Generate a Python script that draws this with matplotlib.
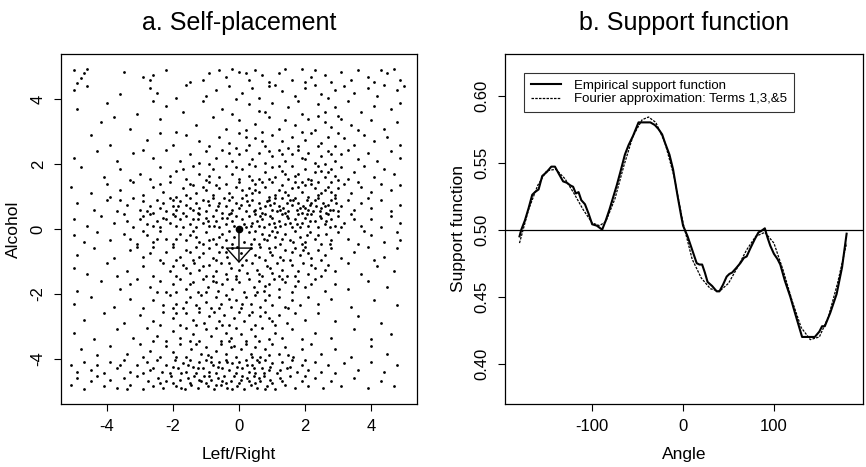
import numpy as np
import matplotlib
matplotlib.use("Agg")
import matplotlib.pyplot as plt

plt.rcParams["font.family"] = ["Liberation Sans", "DejaVu Sans"]
plt.rcParams["axes.unicode_minus"] = False

# Panel a: self-placements (left/right, alcohol)
placements = """
-5.0 4.9 -4.7 4.8 -4.6 4.95 -4.9 4.5 -4.8 4.65 -2.9 4.7 -2.7 4.6 -2.6 4.75 -1.5 4.55 -0.9 4.8
-0.6 4.9 -0.4 4.7 -0.2 4.95 0.0 4.85 0.2 4.8 0.3 4.6 0.5 4.9 0.7 4.75 0.9 4.55 1.2 4.8
1.6 4.6 1.9 4.95 2.2 4.7 2.3 4.9 2.6 4.75 2.8 4.55 3.1 4.85 3.4 4.6 3.6 4.9 3.9 4.7
4.1 4.55 4.3 4.9 4.5 4.8 4.7 4.95 4.9 4.6 -3.5 4.85 -2.2 4.9 1.4 4.95 -1.1 4.6 2.0 4.55
-5.0 4.3 -4.6 4.4 -3.6 4.15 -2.7 4.35 -2.5 4.2 -1.6 4.45 -1.0 4.1 -0.7 4.3 -0.3 4.4 0.1 4.2
0.4 4.35 0.6 4.05 0.9 4.4 1.3 4.25 1.7 4.1 2.0 4.35 2.3 4.45 2.5 4.15 2.9 4.3 3.2 4.4
3.5 4.2 3.9 4.35 4.2 4.1 4.4 4.45 4.8 4.3 5.0 4.4 -1.9 4.05 1.1 4.45 2.7 4.05 -0.1 4.0
-4.9 3.7 -4.0 3.9 -3.1 3.55 -2.2 3.8 -1.7 3.6 -1.1 3.95 -0.5 3.7 -0.2 3.55 0.3 3.85 0.8 3.6
1.0 3.9 1.5 3.75 1.9 3.55 2.4 3.85 2.6 3.6 2.9 3.75 3.3 3.95 3.7 3.6 4.1 3.8 4.6 3.7
4.9 3.9 -2.6 3.95 0.6 3.65 1.8 3.95 3.0 3.5
-4.2 3.3 -3.3 3.1 -2.4 3.4 -1.3 3.2 -0.8 3.45 -0.4 3.1 0.0 3.35 0.2 3.05 0.5 3.25 0.9 3.45
1.2 3.1 1.4 3.35 1.7 3.2 2.1 3.4 2.3 3.05 2.6 3.3 2.8 3.15 3.1 3.4 3.4 3.2 3.6 3.05
4.0 3.35 4.4 3.1 4.8 3.3 -1.9 3.0 1.9 3.0 -3.8 3.45 2.4 3.5 0.7 3.0
-4.5 2.9 -3.9 2.6 -2.8 2.75 -2.0 2.6 -1.6 2.9 -1.2 2.7 -0.9 2.55 -0.6 2.85 -0.3 2.65 0.0 2.95
0.3 2.6 0.5 2.8 0.8 2.55 1.0 2.9 1.3 2.7 1.6 2.85 1.8 2.55 2.0 2.75 2.2 2.95 2.5 2.65
2.7 2.85 2.9 2.55 3.2 2.8 3.5 2.6 3.8 2.9 4.1 2.7 4.5 2.85 4.9 2.6 -2.4 2.95 0.2 2.85
1.5 2.5 2.4 2.55 3.0 2.95 0.7 2.7 -0.1 2.5
-5.0 2.2 -4.3 2.4 -3.7 2.1 -3.2 2.35 -2.6 2.2 -2.2 2.45 -1.8 2.1 -1.5 2.3 -1.2 2.05 -1.0 2.4
-0.7 2.2 -0.5 2.45 -0.2 2.1 0.0 2.3 0.2 2.45 0.4 2.15 0.6 2.35 0.8 2.05 1.0 2.25 1.2 2.45
1.4 2.1 1.6 2.3 1.8 2.45 2.0 2.15 2.1 2.35 2.3 2.05 2.5 2.25 2.7 2.4 2.9 2.1 3.1 2.3
3.3 2.45 3.6 2.15 3.9 2.35 4.2 2.1 4.6 2.4 4.9 2.2 -0.9 2.0 0.3 2.0 1.3 2.3 2.6 2.0
-2.9 2.45 1.9 2.2 0.9 2.4 -0.3 2.35 2.8 2.3
-4.8 1.9 -4.1 1.6 -3.6 1.85 -3.0 1.7 -2.7 1.55 -2.4 1.9 -2.1 1.65 -1.9 1.8 -1.6 1.55 -1.4 1.95
-1.2 1.7 -1.0 1.5 -0.8 1.85 -0.6 1.6 -0.4 1.95 -0.2 1.7 0.0 1.55 0.1 1.85 0.3 1.65 0.5 1.95
0.6 1.55 0.8 1.75 1.0 1.9 1.1 1.6 1.3 1.8 1.5 1.55 1.6 1.95 1.8 1.7 2.0 1.85 2.1 1.55
2.3 1.75 2.4 1.95 2.6 1.6 2.8 1.85 2.9 1.65 3.1 1.9 3.3 1.55 3.5 1.75 3.8 1.95 4.1 1.6
4.4 1.85 4.7 1.7 -3.3 1.5 -0.9 1.65 0.4 1.5 1.2 1.95 2.2 1.5 2.7 1.75 1.7 1.65 -0.1 1.9
0.9 1.55 -1.7 1.85 3.0 1.5 1.4 1.7 2.5 1.8
-5.1 1.3 -4.5 1.1 -4.0 1.4 -3.6 1.2 -3.2 1.45 -2.9 1.05 -2.6 1.3 -2.3 1.15 -2.1 1.45 -1.9 1.0
-1.7 1.25 -1.5 1.4 -1.3 1.1 -1.1 1.3 -0.9 1.45 -0.8 1.05 -0.6 1.25 -0.4 1.4 -0.3 1.1 -0.1 1.3
0.0 1.45 0.2 1.05 0.3 1.25 0.5 1.4 0.6 1.15 0.8 1.3 0.9 1.0 1.0 1.45 1.2 1.2 1.3 1.35
1.5 1.05 1.6 1.25 1.7 1.45 1.9 1.15 2.0 1.35 2.1 1.0 2.3 1.25 2.4 1.45 2.5 1.1 2.7 1.3
2.8 1.45 2.9 1.05 3.0 1.25 3.2 1.4 3.4 1.1 3.7 1.3 4.0 1.15 4.3 1.4 4.6 1.2 4.9 1.35
-2.4 1.4 -1.6 1.05 -0.7 1.35 0.1 1.2 0.7 1.45 1.4 1.15 1.8 1.3 2.2 1.4 2.6 1.2 -1.0 1.2
-0.2 1.0 0.4 1.1 1.1 1.05 1.9 1.45 2.8 1.15 -3.9 1.0 3.6 1.45 -1.4 1.35 0.5 1.2 2.4 1.05
-4.9 0.8 -4.4 0.6 -4.0 0.9 -3.7 0.55 -3.4 0.75 -3.2 0.95 -3.0 0.6 -2.9 0.85 -2.7 0.7 -2.6 0.5
-2.5 0.9 -2.4 0.65 -2.3 0.8 -2.2 0.55 -2.1 0.95 -2.0 0.7 -1.9 0.6 -1.8 0.85 -1.7 0.5 -1.6 0.75
-1.5 0.95 -1.4 0.6 -1.3 0.8 -1.2 0.65 -1.1 0.9 -1.0 0.55 -0.9 0.75 -0.8 0.95 -0.7 0.6 -0.6 0.8
-0.5 0.5 -0.4 0.7 -0.3 0.9 -0.2 0.6 -0.1 0.8 0.0 0.65 0.1 0.95 0.2 0.55 0.3 0.75 0.4 0.9
0.5 0.6 0.6 0.8 0.7 0.5 0.8 0.7 0.9 0.9 1.0 0.6 1.05 0.8 1.15 0.55 1.2 0.7 1.3 0.95
1.35 0.65 1.45 0.8 1.5 0.55 1.6 0.75 1.65 0.9 1.75 0.6 1.8 0.8 1.9 0.5 1.95 0.7 2.05 0.9
2.1 0.6 2.2 0.8 2.25 0.55 2.35 0.7 2.4 0.95 2.5 0.65 2.55 0.8 2.65 0.5 2.7 0.75 2.8 0.9
2.85 0.6 2.95 0.8 3.0 0.55 3.1 0.7 3.3 0.9 3.5 0.6 3.7 0.8 4.0 0.65 4.3 0.9 4.6 0.55
4.9 0.75 -2.8 0.55 -2.0 0.9 -1.5 0.65 -0.95 0.85 -0.45 0.95 0.05 0.75 0.45 0.55 0.85 0.85 1.1 0.95
1.4 0.5 1.7 0.95 2.0 0.65 2.3 0.9 2.6 0.7 2.9 0.95 -1.25 0.5 -0.65 0.7 0.25 0.85 0.65 0.65
1.25 0.6 1.55 0.9 1.85 0.65 2.15 0.75 2.45 0.55 2.75 0.6 -3.6 0.9 3.9 0.95 -1.85 0.7 -0.25 0.5
0.95 0.75
-5.0 0.3 -4.6 0.1 -4.2 0.4 -3.8 0.2 -3.5 0.45 -3.2 0.05 -3.0 0.3 -2.8 0.15 -2.7 0.45 -2.5 0.25
-2.4 0.05 -2.3 0.35 -2.1 0.2 -2.0 0.45 -1.9 0.1 -1.8 0.3 -1.6 0.4 -1.5 0.15 -1.4 0.3 -1.3 0.05
-1.2 0.45 -1.1 0.2 -1.0 0.35 -0.9 0.1 -0.8 0.4 -0.7 0.25 -0.6 0.05 -0.5 0.35 -0.4 0.15 -0.3 0.45
-0.2 0.25 -0.1 0.4 0.1 0.3 0.2 0.05 0.3 0.4 0.4 0.2 0.5 0.45 0.6 0.1 0.7 0.3 0.8 0.45
0.9 0.15 1.0 0.35 1.1 0.05 1.2 0.25 1.3 0.45 1.4 0.15 1.5 0.35 1.6 0.05 1.7 0.3 1.8 0.45
1.9 0.2 2.0 0.35 2.1 0.1 2.2 0.45 2.3 0.25 2.4 0.05 2.5 0.35 2.6 0.15 2.7 0.45 2.8 0.3
2.9 0.1 3.0 0.4 3.2 0.2 3.4 0.45 3.7 0.1 4.0 0.3 4.3 0.05 4.6 0.4 4.9 0.2 -2.9 0.4
-2.2 0.3 -1.7 0.05 -1.25 0.3 -0.75 0.1 -0.35 0.35 0.15 0.15 0.55 0.25 0.95 0.4 1.25 0.1 1.55 0.2
1.85 0.05 2.15 0.25 2.45 0.4 2.75 0.05 -2.6 0.1 -1.95 0.4 -0.95 0.25 0.35 0.1 0.75 0.05 1.05 0.2
1.45 0.4 1.75 0.15 2.05 0.45 2.65 0.25 3.1 0.05 -3.4 0.25 3.5 0.3 -0.15 0.1 0.65 0.4
-5.0 -0.2 -4.7 -0.4 -4.3 -0.1 -3.9 -0.35 -3.5 -0.15 -3.1 -0.45 -2.8 -0.2 -2.6 -0.4 -2.4 -0.05 -2.2 -0.3
-2.0 -0.45 -1.8 -0.15 -1.6 -0.35 -1.4 -0.05 -1.3 -0.25 -1.1 -0.45 -1.0 -0.1 -0.8 -0.3 -0.7 -0.45 -0.5 -0.15
-0.4 -0.35 -0.3 -0.05 -0.15 -0.25 0.15 -0.4 0.3 -0.1 0.45 -0.3 0.6 -0.45 0.7 -0.15 0.85 -0.35 1.0 -0.05
1.1 -0.25 1.25 -0.45 1.4 -0.15 1.55 -0.35 1.7 -0.05 1.85 -0.25 2.0 -0.4 2.15 -0.1 2.3 -0.3 2.5 -0.45
2.65 -0.15 2.8 -0.35 3.0 -0.1 3.3 -0.3 3.6 -0.45 4.0 -0.2 4.4 -0.4 4.8 -0.1 -2.9 -0.05 -1.9 -0.3
-1.2 -0.4 -0.6 -0.25 0.5 -0.05 0.9 -0.2 1.3 -0.3 1.9 -0.45 2.4 -0.2 -2.5 -0.3 -1.5 -0.2 -0.9 -0.35
0.35 -0.45 0.75 -0.3 1.15 -0.1 1.65 -0.4 2.05 -0.2 2.75 -0.45 -3.3 -0.3 3.8 -0.05 -0.2 -0.45 4.9 -0.35
-4.9 -0.8 -4.4 -0.6 -3.8 -0.9 -3.3 -0.65 -2.9 -0.85 -2.6 -0.55 -2.4 -0.95 -2.2 -0.7 -2.0 -0.55 -1.8 -0.85
-1.6 -0.65 -1.4 -0.95 -1.3 -0.55 -1.1 -0.75 -0.9 -0.6 -0.8 -0.9 -0.6 -0.7 -0.5 -0.55 -0.35 -0.85 -0.2 -0.6
0.2 -0.95 0.35 -0.6 0.5 -0.8 0.65 -0.55 0.8 -0.95 0.95 -0.7 1.1 -0.55 1.25 -0.85 1.4 -0.65 1.55 -0.95
1.7 -0.6 1.85 -0.8 2.0 -0.55 2.2 -0.9 2.4 -0.65 2.6 -0.8 2.8 -0.6 3.1 -0.9 3.5 -0.7 3.9 -0.55
4.4 -0.85 4.8 -0.6 -2.7 -0.75 -1.9 -0.95 -1.2 -0.85 -0.7 -0.95 0.05 -0.75 0.6 -0.85 1.0 -0.8 1.6 -0.7
2.1 -0.75 -1.5 -0.7 -0.4 -0.7 0.9 -0.6 1.35 -0.95 1.95 -0.65 2.5 -0.95 -3.1 -0.55 4.1 -0.95 -0.05 -0.55
-5.0 -1.2 -4.6 -1.4 -4.0 -1.05 -3.4 -1.3 -2.9 -1.15 -2.6 -1.45 -2.3 -1.05 -2.1 -1.3 -1.9 -1.45 -1.7 -1.1
-1.5 -1.35 -1.35 -1.05 -1.2 -1.25 -1.0 -1.45 -0.9 -1.1 -0.7 -1.3 -0.55 -1.05 -0.4 -1.4 -0.25 -1.2 -0.1 -1.45
0.1 -1.1 0.25 -1.35 0.4 -1.05 0.55 -1.25 0.7 -1.45 0.85 -1.15 1.0 -1.35 1.15 -1.05 1.3 -1.25 1.45 -1.45
1.6 -1.1 1.8 -1.3 1.95 -1.05 2.1 -1.4 2.3 -1.2 2.5 -1.45 2.7 -1.1 2.9 -1.3 3.3 -1.05 3.7 -1.4
4.2 -1.15 4.7 -1.3 -2.0 -1.15 -1.1 -1.15 -0.3 -1.05 0.6 -1.4 1.2 -1.45 1.7 -1.45 2.2 -1.1 -0.8 -1.45
0.0 -1.25 0.95 -1.2 -1.6 -1.2 2.6 -1.25 -3.7 -1.45
-4.9 -1.9 -4.2 -1.6 -3.6 -1.85 -3.1 -1.55 -2.7 -1.8 -2.4 -1.6 -2.2 -1.95 -2.0 -1.7 -1.8 -1.55 -1.6 -1.85
-1.4 -1.65 -1.25 -1.95 -1.1 -1.55 -0.95 -1.8 -0.8 -1.6 -0.65 -1.9 -0.5 -1.7 -0.35 -1.55 -0.2 -1.85 0.0 -1.65
0.15 -1.95 0.3 -1.55 0.45 -1.8 0.6 -1.6 0.75 -1.9 0.9 -1.7 1.05 -1.55 1.2 -1.85 1.4 -1.65 1.6 -1.95
1.8 -1.6 2.0 -1.8 2.3 -1.55 2.6 -1.9 2.9 -1.7 3.3 -1.85 3.9 -1.6 4.5 -1.8 -1.9 -1.95 -1.0 -1.95
-0.1 -1.55 0.55 -1.95 1.3 -1.55 -2.5 -1.95 -1.5 -1.7 -0.7 -1.65 0.8 -1.75 1.7 -1.75 2.2 -1.7 -3.3 -1.7
-5.0 -2.3 -4.5 -2.1 -3.8 -2.4 -3.3 -2.15 -2.9 -2.45 -2.6 -2.2 -2.3 -2.35 -2.1 -2.05 -1.9 -2.3 -1.7 -2.45
-1.5 -2.1 -1.3 -2.35 -1.15 -2.05 -1.0 -2.25 -0.85 -2.45 -0.7 -2.1 -0.55 -2.3 -0.4 -2.05 -0.25 -2.4 -0.1 -2.2
0.05 -2.45 0.2 -2.1 0.35 -2.3 0.5 -2.05 0.65 -2.4 0.8 -2.2 1.0 -2.35 1.2 -2.1 1.4 -2.4 1.6 -2.2
1.85 -2.35 2.1 -2.1 2.4 -2.3 2.8 -2.15 3.4 -2.4 4.1 -2.2 4.8 -2.35 -2.0 -2.45 -1.2 -2.45 -0.6 -2.45
0.1 -2.3 0.9 -2.05 1.5 -2.45 -1.6 -2.25 -0.3 -2.15
-4.7 -2.8 -4.1 -2.6 -3.5 -2.9 -3.0 -2.65 -2.6 -2.85 -2.3 -2.55 -2.0 -2.75 -1.8 -2.95 -1.6 -2.6 -1.4 -2.8
-1.2 -2.55 -1.05 -2.9 -0.9 -2.7 -0.75 -2.55 -0.6 -2.85 -0.45 -2.65 -0.3 -2.95 -0.15 -2.75 0.0 -2.55 0.15 -2.85
0.3 -2.65 0.5 -2.95 0.65 -2.7 0.8 -2.55 1.0 -2.85 1.2 -2.65 1.45 -2.9 1.7 -2.6 2.0 -2.8 2.4 -2.6
2.9 -2.85 3.6 -2.7 4.3 -2.9 -1.9 -2.6 -0.5 -2.95 0.4 -2.55 1.1 -2.95 -2.4 -2.95 -1.3 -2.95 0.9 -2.75
-5.0 -3.2 -4.4 -3.4 -3.7 -3.1 -3.2 -3.35 -2.8 -3.05 -2.5 -3.3 -2.2 -3.45 -2.0 -3.15 -1.8 -3.35 -1.6 -3.05
-1.4 -3.25 -1.2 -3.45 -1.0 -3.1 -0.85 -3.3 -0.7 -3.05 -0.55 -3.45 -0.4 -3.2 -0.25 -3.35 -0.1 -3.05 0.05 -3.25
0.2 -3.45 0.35 -3.1 0.5 -3.3 0.7 -3.05 0.9 -3.4 1.1 -3.2 1.3 -3.35 1.6 -3.1 1.9 -3.4 2.3 -3.2
2.8 -3.35 3.5 -3.1 4.0 -3.4 4.6 -3.25 -1.5 -3.45 -0.3 -3.45 0.6 -3.45 -2.6 -3.45
-4.8 -3.7 -4.3 -3.9 -3.9 -3.6 -3.4 -3.85 -3.0 -3.55 -2.7 -3.75 -2.4 -3.95 -2.2 -3.6 -2.0 -3.8 -1.8 -3.55
-1.6 -3.95 -1.45 -3.7 -1.3 -3.55 -1.15 -3.85 -1.0 -3.65 -0.85 -3.95 -0.7 -3.75 -0.55 -3.55 -0.4 -3.85 -0.25 -3.65
-0.1 -3.95 0.05 -3.7 0.2 -3.55 0.35 -3.85 0.5 -3.65 0.65 -3.95 0.8 -3.7 1.0 -3.55 1.2 -3.85 1.4 -3.65
1.65 -3.95 1.9 -3.7 2.2 -3.55 2.5 -3.85 2.9 -3.7 3.4 -3.95 4.0 -3.6 4.5 -3.85 -1.9 -3.95 -0.95 -3.9
-0.15 -3.6 0.9 -3.9 1.5 -3.9 -2.9 -3.95 0.4 -3.95
-5.1 -4.2 -4.9 -4.4 -4.7 -4.1 -4.5 -4.35 -4.3 -4.2 -4.1 -4.45 -3.9 -4.1 -3.7 -4.3 -3.5 -4.05 -3.3 -4.4
-3.1 -4.2 -2.9 -4.45 -2.8 -4.1 -2.6 -4.3 -2.5 -4.05 -2.35 -4.4 -2.2 -4.2 -2.1 -4.45 -1.95 -4.05 -1.85 -4.3
-1.7 -4.15 -1.6 -4.4 -1.5 -4.05 -1.4 -4.25 -1.3 -4.45 -1.2 -4.1 -1.1 -4.3 -1.0 -4.05 -0.9 -4.4 -0.8 -4.2
-0.7 -4.45 -0.6 -4.1 -0.5 -4.3 -0.4 -4.05 -0.3 -4.35 -0.2 -4.15 -0.1 -4.45 0.0 -4.1 0.1 -4.3 0.2 -4.05
0.3 -4.4 0.4 -4.2 0.5 -4.45 0.6 -4.1 0.7 -4.3 0.8 -4.05 0.9 -4.35 1.0 -4.15 1.15 -4.45 1.3 -4.1
1.45 -4.3 1.6 -4.05 1.75 -4.4 1.9 -4.2 2.1 -4.35 2.3 -4.1 2.5 -4.4 2.7 -4.2 2.9 -4.45 3.2 -4.15
3.6 -4.35 4.0 -4.1 4.4 -4.4 4.8 -4.2 -2.0 -4.25 -1.25 -4.3 -0.65 -4.25 -0.05 -4.25 0.45 -4.3 0.95 -4.25
-1.75 -4.45 -0.85 -4.1 0.25 -4.2 0.75 -4.45 1.25 -4.35 -0.35 -4.1 -2.7 -4.35 -1.55 -4.2 0.55 -4.05 1.55 -4.25
-3.6 -4.2 2.0 -4.05
-5.1 -4.8 -4.9 -4.6 -4.7 -4.95 -4.5 -4.7 -4.3 -4.55 -4.1 -4.85 -3.9 -4.65 -3.7 -4.9 -3.5 -4.6 -3.3 -4.8
-3.1 -4.55 -2.9 -4.95 -2.75 -4.7 -2.6 -4.85 -2.45 -4.6 -2.3 -4.9 -2.2 -4.7 -2.05 -4.55 -1.9 -4.85 -1.8 -4.65
-1.65 -4.95 -1.55 -4.6 -1.45 -4.8 -1.35 -4.55 -1.25 -4.9 -1.15 -4.7 -1.05 -4.55 -0.95 -4.85 -0.85 -4.65 -0.75 -4.95
-0.65 -4.6 -0.55 -4.8 -0.45 -4.55 -0.35 -4.9 -0.25 -4.7 -0.15 -4.55 -0.05 -4.85 0.05 -4.65 0.15 -4.95 0.25 -4.6
0.35 -4.8 0.45 -4.55 0.55 -4.9 0.65 -4.7 0.75 -4.55 0.85 -4.85 0.95 -4.65 1.1 -4.95 1.25 -4.6 1.4 -4.8
1.55 -4.55 1.7 -4.9 1.9 -4.7 2.1 -4.85 2.3 -4.6 2.55 -4.9 2.8 -4.7 3.1 -4.85 3.5 -4.6 3.9 -4.9
4.3 -4.7 4.7 -4.85 -2.0 -4.75 -1.5 -4.75 -1.0 -4.75 -0.5 -4.7 0.0 -4.75 0.5 -4.75 1.0 -4.75 -1.75 -4.9
-1.2 -4.65 -0.7 -4.8 -0.2 -4.95 0.3 -4.7 0.8 -4.95 -2.4 -4.75 -0.9 -4.55 0.1 -4.55 0.6 -4.6 1.3 -4.7
-3.4 -4.95 2.0 -4.55 -0.4 -4.75
"""
pts = np.array(placements.split(), dtype=float).reshape(-1, 2)
left_right = pts[:, 0]
alcohol = pts[:, 1]

# mean shift arrow
arrow_start = (0.0, 0.0)
arrow_end = (0.0, -1.05)

# Panel b: support function
emp_angle = [-180, -178, -174, -170, -166, -163, -159, -155, -150, -145, -141, -137, -132,
             -128, -124, -121, -118, -115, -112, -108, -104, -100, -95, -89, -85, -81, -77,
             -73, -69, -64, -60, -55, -49, -43, -36, -31, -27, -23, -20, -15, -11, -6, -2,
             0, 5, 10, 15, 18, 21, 24, 27, 32, 37, 40, 44, 48, 51, 54, 58, 63, 67, 70, 74,
             79, 83, 86, 90, 93, 96, 100, 104, 107, 112, 118, 124, 131, 138, 145, 150, 153,
             156, 162, 169, 175, 180]
emp_value = [0.495, 0.500, 0.507, 0.516, 0.526, 0.528, 0.530, 0.540, 0.543, 0.547, 0.547,
             0.542, 0.536, 0.535, 0.533, 0.532, 0.527, 0.528, 0.522, 0.519, 0.512, 0.504,
             0.503, 0.500, 0.507, 0.515, 0.524, 0.533, 0.543, 0.556, 0.563, 0.570, 0.580,
             0.580, 0.580, 0.578, 0.575, 0.571, 0.565, 0.556, 0.545, 0.525, 0.510, 0.503,
             0.495, 0.485, 0.475, 0.474, 0.474, 0.468, 0.461, 0.458, 0.454, 0.454, 0.459,
             0.465, 0.467, 0.468, 0.471, 0.475, 0.479, 0.480, 0.486, 0.493, 0.498, 0.499,
             0.501, 0.494, 0.488, 0.482, 0.478, 0.474, 0.462, 0.450, 0.436, 0.420, 0.420,
             0.420, 0.424, 0.428, 0.428, 0.438, 0.452, 0.472, 0.497]

fou_angle = [-180, -170, -160, -150, -140, -130, -120, -110, -100, -92, -85, -75, -65, -55,
             -45, -38, -30, -20, -10, 0, 10, 20, 30, 40, 50, 60, 70, 80, 90, 100, 110, 120,
             130, 140, 150, 160, 170, 180]
fou_value = [0.490, 0.515, 0.533, 0.544, 0.545, 0.538, 0.527, 0.515, 0.505, 0.503, 0.506,
             0.523, 0.548, 0.570, 0.582, 0.584, 0.580, 0.565, 0.540, 0.505, 0.478, 0.464,
             0.456, 0.454, 0.460, 0.472, 0.485, 0.495, 0.498, 0.490, 0.470, 0.447, 0.427,
             0.418, 0.420, 0.435, 0.460, 0.490]

fig = plt.figure(figsize=(8.66, 4.67), dpi=100)
ax1 = fig.add_axes([0.0704, 0.1349, 0.4111, 0.7495])
ax2 = fig.add_axes([0.5831, 0.1349, 0.4134, 0.7495])

for ax in (ax1, ax2):
    ax.tick_params(direction="out", length=5, width=0.8, labelsize=12, pad=6)
    for sp in ax.spines.values():
        sp.set_linewidth(0.9)

# a. scatter
ax1.scatter(left_right, alcohol, s=4, c="black", marker="o", linewidths=0)
ax1.plot(*arrow_start, marker="o", ms=4.5, color="black")
ax1.annotate("", xy=arrow_end, xytext=arrow_start,
             arrowprops=dict(arrowstyle="-|>,head_length=0.5,head_width=0.45",
                             mutation_scale=20, fc="none", ec="black", lw=1.0,
                             shrinkA=0, shrinkB=0))
ax1.set_xlim(-5.4, 5.4)
ax1.set_ylim(-5.4, 5.4)
ax1.set_xticks([-4, -2, 0, 2, 4])
ax1.set_yticks([-4, -2, 0, 2, 4])
ax1.set_xlabel("Left/Right", fontsize=12.5, labelpad=9)
ax1.set_ylabel("Alcohol", fontsize=12.5, labelpad=7)
ax1.set_title("a. Self-placement", fontsize=18, pad=17)
plt.setp(ax1.get_yticklabels(), rotation=90, va="center")

# b. support function
ax2.axhline(0.5, color="black", lw=0.9)
ax2.plot(emp_angle, emp_value, color="black", lw=1.5, label="Empirical support function")
ax2.plot(fou_angle, fou_value, color="black", lw=0.9, ls=(0, (2, 1)),
         label="Fourier approximation: Terms 1,3,&5")
ax2.set_xlim(-196, 198)
ax2.set_ylim(0.370, 0.631)
ax2.set_xticks([-100, 0, 100])
ax2.set_yticks([0.40, 0.45, 0.50, 0.55, 0.60])
ax2.set_yticklabels(["0.40", "0.45", "0.50", "0.55", "0.60"])
plt.setp(ax2.get_yticklabels(), rotation=90, va="center")
ax2.set_xlabel("Angle", fontsize=12.5, labelpad=9)
ax2.set_ylabel("Support function", fontsize=12.5, labelpad=6)
ax2.set_title("b. Support function", fontsize=18, pad=17)
leg = ax2.legend(loc="upper left", bbox_to_anchor=(0.035, 0.965), fontsize=9.5,
                 frameon=True, fancybox=False, edgecolor="black", handlelength=2.3,
                 labelspacing=0.1, borderpad=0.5, handletextpad=1.0)
leg.get_frame().set_linewidth(0.8)

fig.savefig("out.png", dpi=100)
